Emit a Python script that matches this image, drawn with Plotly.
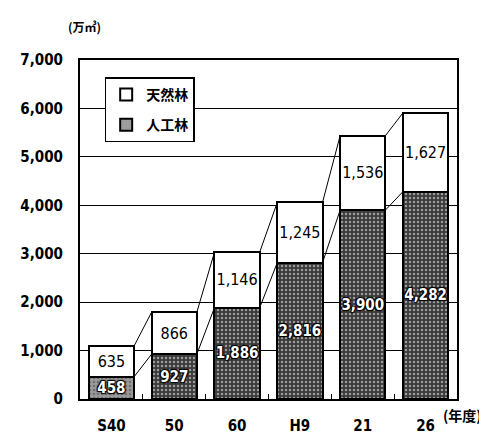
import plotly.graph_objects as go

categories = ["S40", "50", "60", "H9", "21", "26"]
planted = [458, 927, 1886, 2816, 3900, 4282]      # 人工林
natural = [635, 866, 1146, 1245, 1536, 1627]      # 天然林
y_ticks = [0, 1000, 2000, 3000, 4000, 5000, 6000, 7000]

FONT = "DejaVu Sans Condensed, Liberation Sans Narrow, Arial Narrow, sans-serif"
CJK = "Noto Sans CJK JP, sans-serif"

x = list(range(len(categories)))
totals = [p + n for p, n in zip(planted, natural)]
bw = 0.72

fig = go.Figure()

fig.add_trace(go.Bar(
    x=x, y=planted, name="人工林", width=bw, legendrank=2, legendgroup="b",
    marker=dict(color=["#9a9a9a"] + ["#3a3a3a"] * 5,
                line=dict(color="black", width=2),
                pattern=dict(shape=".", fgcolor="#b0b0b0", size=4, solidity=0.3)),
    text=[f"{v:,}" for v in planted], textposition="inside",
    insidetextanchor="middle", textangle=0, constraintext="none",
    textfont=dict(family=FONT, size=15, weight="bold", color="white",
                  shadow="1px 1px 1px #000, -1px -1px 1px #000, 1px -1px 1px #000, -1px 1px 1px #000"),
))
fig.add_trace(go.Bar(
    x=x, y=natural, name="天然林", width=bw, legendrank=1, legendgroup="a",
    marker=dict(color="white", line=dict(color="black", width=2)),
    text=[f"{v:,}" for v in natural], textposition="inside",
    insidetextanchor="middle", textangle=0, constraintext="none",
    textfont=dict(family=FONT, size=16, color="black"),
))

# connector lines between stacked bars
for series in (planted, totals):
    for i in range(len(categories) - 1):
        fig.add_trace(go.Scatter(
            x=[x[i] + bw / 2, x[i + 1] - bw / 2], y=[series[i], series[i + 1]],
            mode="lines", line=dict(color="black", width=1), showlegend=False,
            hoverinfo="skip"))

L, R, T, B, W, H = 67, 38, 52, 36, 487, 439
pw, ph = W - L - R, H - T - B

def px(xp):
    return (xp - L) / pw

def py(yp):
    return (H - B - yp) / ph

fig.update_layout(
    width=W, height=H,
    margin=dict(l=L, r=R, t=T, b=B),
    barmode="stack",
    plot_bgcolor="white", paper_bgcolor="white",
    font=dict(family=FONT, size=14, color="black"),
    showlegend=True,
    legend=dict(x=px(92), y=py(70), xanchor="left", yanchor="top",
                bgcolor="white", bordercolor="black", borderwidth=1.5,
                font=dict(family=CJK, size=14, color="black", weight="bold"),
                traceorder="grouped", tracegroupgap=9, itemwidth=30),
    annotations=[
        dict(text="(万㎥)", x=px(72), y=py(17), xref="paper", yref="paper",
             xanchor="center", yanchor="middle", showarrow=False,
             font=dict(family=CJK, size=12, color="black", weight="bold")),
        dict(text="(年度)", x=px(455), y=py(420), xref="paper", yref="paper",
             xanchor="center", yanchor="middle", showarrow=False,
             font=dict(family=CJK, size=14, color="black", weight="bold")),
    ],
)

fig.update_xaxes(
    range=[-0.5, len(categories) - 0.5], tickmode="array", tickvals=x, ticktext=categories,
    showline=True, linecolor="black", linewidth=2, mirror=True,
    showgrid=False, zeroline=False, ticks="", ticklabelstandoff=12,
    tickfont=dict(family=FONT, size=15, weight="bold"),
    minor=dict(tickvals=[i + 0.5 for i in x[:-1]], ticks="inside", ticklen=5,
               tickcolor="black", tickwidth=1),
)
fig.update_yaxes(
    range=[0, 7000], tickmode="array", tickvals=y_ticks, tickformat=",",
    showline=True, linecolor="black", linewidth=2, mirror=True,
    showgrid=True, gridcolor="black", gridwidth=1, zeroline=False,
    ticks="", ticklabelstandoff=12,
    tickfont=dict(family=FONT, size=15, weight="bold"),
)

fig.write_html("out.html")
